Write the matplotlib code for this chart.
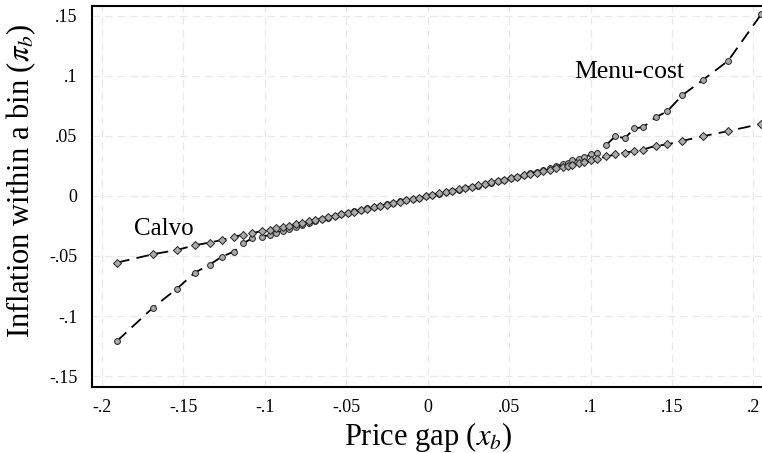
import matplotlib
matplotlib.use("Agg")
from matplotlib import pyplot as plt

plt.rcParams['font.family'] = ['Liberation Serif', 'DejaVu Serif']
plt.rcParams['mathtext.fontset'] = 'stix'

# bin midpoints (price gap), shared by both models
gap = [-0.1906, -0.1685, -0.1538, -0.1428, -0.1336, -0.1262, -0.1188, -0.1131, -0.1076, -0.1014,
       -0.097, -0.093, -0.089, -0.085, -0.081, -0.077, -0.073, -0.069, -0.065, -0.061,
       -0.057, -0.053, -0.049, -0.045, -0.041, -0.037, -0.033, -0.029, -0.025, -0.021,
       -0.017, -0.013, -0.009, -0.005, -0.001, 0.003, 0.007, 0.011, 0.015, 0.019,
       0.023, 0.027, 0.031, 0.035, 0.039, 0.043, 0.047, 0.051, 0.055, 0.059,
       0.063, 0.067, 0.071, 0.075, 0.079, 0.083, 0.086,
       0.0888, 0.0928, 0.0963, 0.1006, 0.1041, 0.1098, 0.1153, 0.121, 0.127, 0.1323,
       0.1399, 0.147, 0.1564, 0.1691, 0.1845, 0.2049]

menu_cost = [-0.1207, -0.0929, -0.0771, -0.0638, -0.0571, -0.0505, -0.0463, -0.0394, -0.0352, -0.0338,
             -0.0326, -0.0307, -0.0290, -0.0272, -0.0256, -0.0240, -0.0224, -0.0209, -0.0195, -0.0181,
             -0.0167, -0.0154, -0.0141, -0.0128, -0.0116, -0.0103, -0.0092, -0.0080, -0.0069, -0.0057,
             -0.0046, -0.0035, -0.0024, -0.0014, -0.0003, 0.0008, 0.0019, 0.0030, 0.0041, 0.0052,
             0.0063, 0.0074, 0.0086, 0.0098, 0.0109, 0.0122, 0.0134, 0.0147, 0.0160, 0.0174,
             0.0188, 0.0202, 0.0217, 0.0232, 0.0248, 0.0264, 0.0277,
             0.0295, 0.0303, 0.0325, 0.0345, 0.0361, 0.0425, 0.0497, 0.0480, 0.0561, 0.0572,
             0.0653, 0.0703, 0.0838, 0.0966, 0.1124, 0.1513]

calvo = [-0.0555, -0.0485, -0.0450, -0.0410, -0.0388, -0.0366, -0.0338, -0.0325, -0.0310, -0.0291,
         -0.0281, -0.0270, -0.0258, -0.0247, -0.0235, -0.0223, -0.0212, -0.0200, -0.0189, -0.0177,
         -0.0165, -0.0154, -0.0142, -0.0131, -0.0119, -0.0107, -0.0096, -0.0084, -0.0073, -0.0061,
         -0.0049, -0.0038, -0.0026, -0.0015, -0.0003, 0.0009, 0.0020, 0.0032, 0.0044, 0.0055,
         0.0067, 0.0078, 0.0090, 0.0102, 0.0113, 0.0125, 0.0136, 0.0148, 0.0160, 0.0171,
         0.0183, 0.0194, 0.0206, 0.0218, 0.0229, 0.0241, 0.0249,
         0.0260, 0.0270, 0.0281, 0.0295, 0.0303, 0.0328, 0.0345, 0.0361, 0.0372, 0.0386,
         0.0416, 0.0428, 0.0458, 0.0497, 0.0539, 0.0600]

xticks = [-0.2, -0.15, -0.1, -0.05, 0, 0.05, 0.1, 0.15, 0.2]
xtick_labels = ['-.2', '-.15', '-.1', '-.05', '0', '.05', '.1', '.15', '.2']
yticks = [-0.15, -0.1, -0.05, 0, 0.05, 0.1, 0.15]
ytick_labels = ['-.15', '-.1', '-.05', '0', '.05', '.1', '.15']

fig = plt.figure(figsize=(7.62, 4.53), dpi=100)
ax = fig.add_axes([92 / 762, 66 / 453, 672 / 762, 381 / 453])

dash = dict(color='black', lw=1.3, dashes=(7, 4))
ax.plot(gap, menu_cost, marker='o', ms=4.2, mfc='#aaaaaa', mec='#222222', mew=0.7, **dash)
ax.plot(gap, calvo, marker='D', ms=4.0, mfc='#aaaaaa', mec='#222222', mew=0.7, **dash)

ax.text(-0.162, -0.0275, 'Calvo', fontsize=18, ha='center', va='center')
ax.text(0.1235, 0.1035, 'Menu-cost', fontsize=18.5, ha='center', va='center')

ax.set_xlim(-0.206, 0.2065)
ax.set_ylim(-0.159, 0.158)
ax.set_xticks(xticks, xtick_labels)
ax.set_yticks(yticks, ytick_labels)
ax.tick_params(length=0, labelsize=13)
ax.tick_params(axis='x', pad=9)
ax.tick_params(axis='y', pad=10.5)

ax.grid(True, color='#e8e8e8', lw=0.9, ls=(0, (6, 4)))
ax.set_axisbelow(True)
for side in ['left', 'bottom', 'top']:
    ax.spines[side].set_linewidth(1.5)
ax.spines['right'].set_visible(False)

ax.set_xlabel('Price gap ($x_b$)', fontsize=22)
ax.set_ylabel('Inflation within a bin ($\\pi_b$)', fontsize=22)
ax.xaxis.set_label_coords(0.5, -0.086)
ax.yaxis.set_label_coords(-0.08, 0.54)

fig.savefig('out.png', dpi=100)
